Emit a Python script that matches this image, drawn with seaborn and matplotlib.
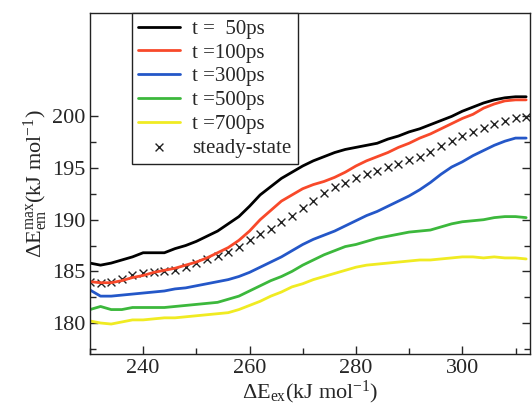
import numpy as np
import pandas as pd
import seaborn as sns
import matplotlib.pyplot as plt
from matplotlib.ticker import MultipleLocator, FixedLocator

# excitation energy grid (kJ/mol)
e_ex = list(range(230, 313, 2))

t50 = [185.8, 185.6, 185.8, 186.1, 186.4, 186.8, 186.8, 186.8, 187.2, 187.5,
       187.9, 188.4, 188.9, 189.6, 190.3, 191.3, 192.4, 193.2, 194.0, 194.6,
       195.2, 195.7, 196.1, 196.5, 196.8, 197.0, 197.2, 197.4, 197.8, 198.1,
       198.5, 198.8, 199.2, 199.6, 200.0, 200.5, 200.9, 201.3, 201.6, 201.8,
       201.9, 201.9]
t100 = [184.0, 183.9, 183.9, 184.1, 184.4, 184.6, 184.9, 185.1, 185.3, 185.6,
        185.9, 186.3, 186.8, 187.3, 188.0, 188.9, 190.0, 190.9, 191.8, 192.4,
        193.0, 193.4, 193.7, 194.1, 194.6, 195.2, 195.7, 196.1, 196.5, 197.0,
        197.4, 197.9, 198.3, 198.8, 199.3, 199.8, 200.2, 200.8, 201.2, 201.5,
        201.6, 201.6]
t300 = [183.2, 182.6, 182.6, 182.7, 182.8, 182.9, 183.0, 183.1, 183.3, 183.4,
        183.6, 183.8, 184.0, 184.2, 184.5, 184.9, 185.4, 185.9, 186.4, 187.0,
        187.6, 188.1, 188.5, 188.9, 189.4, 189.9, 190.4, 190.8, 191.3, 191.8,
        192.3, 192.9, 193.6, 194.4, 195.1, 195.6, 196.2, 196.7, 197.2, 197.6,
        197.9, 197.9]
t500 = [181.3, 181.6, 181.3, 181.3, 181.5, 181.5, 181.5, 181.5, 181.6, 181.7,
        181.8, 181.9, 182.0, 182.3, 182.6, 183.1, 183.6, 184.1, 184.5, 185.0,
        185.6, 186.1, 186.6, 187.0, 187.4, 187.6, 187.9, 188.2, 188.4, 188.6,
        188.8, 188.9, 189.0, 189.3, 189.6, 189.8, 189.9, 190.0, 190.2, 190.3,
        190.3, 190.2]
t700 = [180.2, 180.0, 179.9, 180.1, 180.3, 180.3, 180.4, 180.5, 180.5, 180.6,
        180.7, 180.8, 180.9, 181.0, 181.3, 181.7, 182.1, 182.6, 183.0, 183.5,
        183.8, 184.2, 184.5, 184.8, 185.1, 185.4, 185.6, 185.7, 185.8, 185.9,
        186.0, 186.1, 186.1, 186.2, 186.3, 186.4, 186.4, 186.3, 186.4, 186.3,
        186.3, 186.2]
steady = [184.0, 183.9, 184.0, 184.3, 184.6, 184.8, 184.9, 185.0, 185.1, 185.4,
          185.8, 186.2, 186.5, 186.9, 187.4, 188.0, 188.6, 189.1, 189.8, 190.4,
          191.1, 191.8, 192.6, 193.2, 193.6, 194.0, 194.4, 194.7, 195.1, 195.4,
          195.8, 196.1, 196.6, 197.1, 197.6, 198.1, 198.5, 198.9, 199.3, 199.6,
          199.8, 199.9]

labels = ['t =  50ps', 't =100ps', 't =300ps', 't =500ps', 't =700ps']
colors = ['#000000', '#f8492a', '#2457c8', '#3cb83c', '#f0eb22']

sns.set_style('ticks')
plt.rcParams['font.family'] = ['Liberation Serif', 'DejaVu Serif']
plt.rcParams['mathtext.fontset'] = 'custom'
plt.rcParams['mathtext.rm'] = 'Liberation Serif'
plt.rcParams['mathtext.it'] = 'Liberation Serif:italic'

fig = plt.figure(figsize=(5.32, 4.09), dpi=100)
ax = fig.add_axes([0.169, 0.1345, 0.827, 0.8335])

for lab, col, vals in zip(labels, colors, [t50, t100, t300, t500, t700]):
    df = pd.DataFrame({'x': e_ex, 'y': vals})
    sns.lineplot(data=df, x='x', y='y', ax=ax, color=col, linewidth=2, label=lab)

ss = pd.DataFrame({'x': e_ex, 'y': steady})
sns.scatterplot(data=ss, x='x', y='y', ax=ax, marker='x', color='#222222',
                s=32, linewidth=1.0, label='steady-state')

ax.set_xlim(230, 312.7)
ax.set_ylim(177, 210)
ax.xaxis.set_major_locator(MultipleLocator(20))
ax.xaxis.set_minor_locator(MultipleLocator(10))
ax.yaxis.set_major_locator(FixedLocator([180, 185, 190, 195, 200]))
ax.yaxis.set_minor_locator(FixedLocator([177.5, 182.5, 187.5, 192.5, 197.5]))
ax.tick_params(which='both', direction='in', right=True, top=False,
               labelsize=16, width=1)
ax.tick_params(which='major', length=6)
ax.tick_params(which='minor', length=4)
for s in ax.spines.values():
    s.set_linewidth(1)
    s.set_color('#222222')

ax.set_xlabel(r'$\Delta$E$_{\mathrm{ex}}$(kJ mol$^{\mathrm{-1}}$)', fontsize=16, labelpad=1)
ax.set_ylabel(r'$\Delta$E$_{\mathrm{em}}^{\mathrm{max}}$(kJ mol$^{\mathrm{-1}}$)', fontsize=16, labelpad=1)

leg = ax.legend(loc='upper left', bbox_to_anchor=(0.095, 1.0), borderaxespad=0,
                fontsize=15, frameon=True, fancybox=False, framealpha=1,
                edgecolor='#222222', handlelength=2.0, handletextpad=0.6,
                labelspacing=0.2, borderpad=0.3)
leg.get_frame().set_linewidth(1)

fig.savefig('out.png', dpi=100)
